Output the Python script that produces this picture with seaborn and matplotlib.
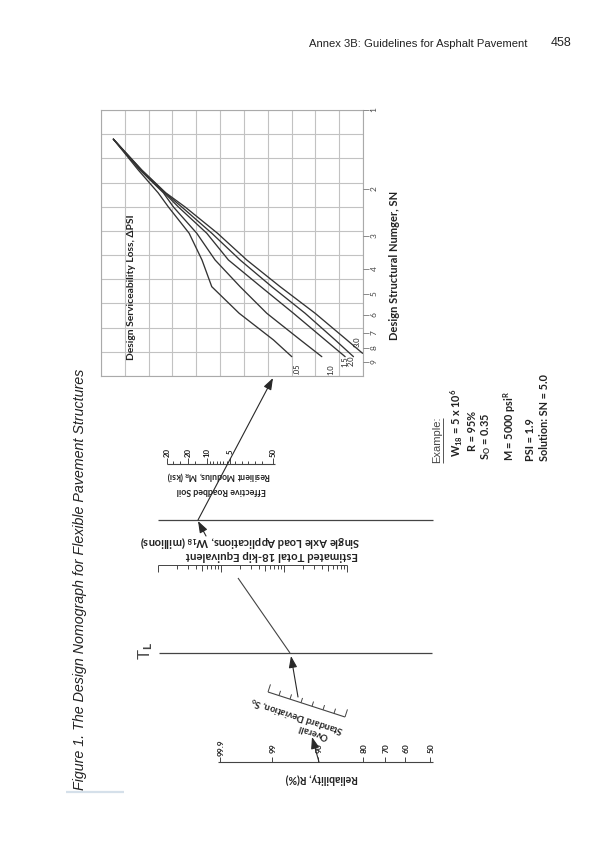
import numpy as np
import pandas as pd
import matplotlib
matplotlib.use("Agg")
import matplotlib.pyplot as plt
from matplotlib.ticker import FixedLocator, FixedFormatter, NullLocator
import seaborn as sns

# ---------------- data ----------------
DPSI = ["0.5", "1.0", "1.5", "2.0", "3.0"]
DPSI_LABELS = [".05", "1.0", "1.5", "2.0", "3.0"]
SN_LEVELS = [1.29, 1.69, 2.06, 2.33, 2.93, 3.70, 4.67, 5.89, 7.43, 8.60]
SN_LEVELS_30 = [1.29, 1.69, 2.06, 2.33, 2.93, 3.70, 4.67, 5.89, 7.43, 8.35]
CURVE_05 = [0.52, 1.57, 2.40, 2.83, 3.70, 4.24, 4.65, 5.80, 7.24, 8.01]
CURVE_10 = [0.52, 1.64, 2.62, 3.04, 4.02, 4.79, 5.84, 6.96, 8.37, 9.27]
CURVE_15 = [0.52, 1.68, 2.66, 3.25, 4.44, 5.35, 6.71, 8.08, 9.41, 10.25]
CURVE_20 = [0.52, 1.70, 2.69, 3.39, 4.65, 5.84, 7.17, 8.57, 9.83, 10.60]
CURVE_30 = [0.52, 1.72, 2.72, 3.53, 4.89, 6.12, 7.52, 8.99, 10.32, 10.98]
SN_TICKS = [1, 2, 3, 4, 5, 6, 7, 8, 9]

RELIABILITY_LABELS = ["99.9", "99", "90", "80", "70", "60", "50"]
MR_LABELS = ["20", "20", "10", "5", "50"]
W18_DECADES = [0.05, 0.5, 5, 50]
SO_TICK_COUNT = 8

EXAMPLE_LINES = [
    r"W$_{\mathbf{18}}$ = 5 x 10$^{\mathbf{6}}$",
    "R = 95%",
    r"S$_{\mathbf{O}}$ = 0.35",
    r"M = 5000 psi$^{\mathbf{R}}$",
    "PSI = 1.9",
    "Solution: SN = 5.0",
]

# ---------------- layout (page pixels) ----------------
W, H = 600, 850
CH_L, CH_R, CH_T, CH_B = 101, 363, 110, 376
SN_MAX = 10.18
LINE = "#444444"
TXT = "#222222"

REL_Y = 762
REL_X = [220, 272, 318, 363, 385, 405, 430]
MR_Y = 464
MR_MAJOR_X = [167, 188, 207, 230, 273]
MR_TICK_X = [167, 173, 180, 188, 195, 207, 210, 213, 217, 220, 223, 227, 230,
             235, 242, 248, 255, 262, 273]
W18_Y, W18_X0, W18_PX = 565, 158, 63
SO_P0, SO_P1 = (268, 692), (345, 717)
TURN_Y, TL_Y = 520, 653
LINES_X = (158, 433)

sns.set_theme(style="white")
plt.rcParams.update({
    "font.family": ["Lato", "DejaVu Sans"],
    "mathtext.fontset": "custom",
    "mathtext.rm": "Lato:bold",
    "mathtext.it": "Lato:italic",
    "mathtext.bf": "Lato:bold",
})
NOMO = dict(family=["Lato", "DejaVu Sans"], weight="bold", color=TXT)

fig = plt.figure(figsize=(6, 8.5), dpi=100)
fig.patch.set_facecolor("white")

# ---------------- design chart ----------------
axc = fig.add_axes([CH_L / W, 1 - CH_B / H, (CH_R - CH_L) / W, (CH_B - CH_T) / H])
axc.set_xlim(0, 11)
axc.set_ylim(11, 0)
axc.set_xticks(range(12))
axc.set_yticks(range(12))
axc.grid(True, color="#c2c2c2", lw=0.8)
axc.tick_params(length=0, labelbottom=False, labelleft=False)
for s in axc.spines.values():
    s.set_color("#aaaaaa")
    s.set_linewidth(0.8)

axs = axc.twinx()
curves = pd.concat([
    pd.DataFrame({"gx": g, "sn": sn, "dpsi": d})
    for d, g, sn in zip(DPSI,
                        [CURVE_05, CURVE_10, CURVE_15, CURVE_20, CURVE_30],
                        [SN_LEVELS] * 4 + [SN_LEVELS_30])
])
sns.lineplot(data=curves, x="gx", y="sn", hue="dpsi", palette=["#333333"] * 5,
             estimator=None, sort=False, legend=False, lw=0.95, ax=axs)
axs.set_yscale("log")
axs.set_ylim(SN_MAX, 1)
axs.set_xlim(0, 11)
axs.set_xlabel("")
axs.set_ylabel("")
axs.yaxis.set_major_locator(FixedLocator(SN_TICKS))
axs.yaxis.set_major_formatter(FixedFormatter([str(v) for v in SN_TICKS]))
axs.yaxis.set_minor_locator(NullLocator())
axs.tick_params(axis="y", which="major", right=True, direction="out", length=4,
                width=0.6, color="#777777", labelcolor="#444444", labelsize=6,
                labelrotation=90, pad=1.5)
for s in axs.spines.values():
    s.set_visible(False)

# ---------------- overlay in page pixels ----------------
ax0 = fig.add_axes([0, 0, 1, 1], zorder=10)
ax0.set_xlim(0, W)
ax0.set_ylim(H, 0)
ax0.axis("off")


def seg(p0, p1, lw=0.8, color=LINE):
    ax0.plot([p0[0], p1[0]], [p0[1], p1[1]], color=color, lw=lw,
             solid_capstyle="butt")


def arrow(p0, p1):
    ax0.annotate("", xy=p1, xytext=p0,
                 arrowprops=dict(arrowstyle="-|>,head_length=0.7,head_width=0.25",
                                 color="#282828", lw=0.8, shrinkA=0, shrinkB=0,
                                 mutation_scale=10))


# header and caption
ax0.text(418, 44, "Annex 3B: Guidelines for Asphalt Pavement", family="Liberation Sans",
         size=8.1, ha="center", va="center", color="#222222")
ax0.text(561, 43, "458", family="Liberation Sans", size=9, ha="center", va="center",
         color="#222222")
ax0.text(80, 790, "Figure 1. The Design Nomograph for Flexible Pavement Structures",
         family="Liberation Sans", style="italic", size=10.3, rotation=90,
         rotation_mode="anchor", ha="left", va="center", color="#222222")
seg((66, 792), (124, 792), lw=1.6, color="#d5e0ea")

# chart titles and curve labels
ax0.text(132, 287, "Design Serviceability Loss, ΔPSI", rotation=90, ha="center",
         va="center", size=7.4, **NOMO)
ax0.text(394, 265, "Design Structural Numger, SN", rotation=90, ha="center",
         va="center", size=8.0, **NOMO)
for lab, pos in zip(DPSI_LABELS, [(297, 369), (331, 370), (345, 362), (351, 361), (357, 342)]):
    ax0.text(pos[0], pos[1], lab, rotation=90, ha="center", va="center", size=5.5,
             family=["Lato", "DejaVu Sans"], color=TXT)

# MR scale
seg((MR_MAJOR_X[0], MR_Y), (MR_MAJOR_X[-1] + 2, MR_Y))
for x in MR_TICK_X:
    seg((x, MR_Y), (x, MR_Y - (6 if x in MR_MAJOR_X else 3.5)), lw=0.7)
for lab, x in zip(MR_LABELS, MR_MAJOR_X):
    ax0.text(x, 452, lab, rotation=90, ha="center", va="center", size=5.6, **NOMO)
ax0.text(219, 476, r"Resilient Modulus, M$_{\mathbf{R}}$ (ksi)", rotation=180,
         ha="center", va="center", size=6.2, **NOMO)
ax0.text(221, 490, "Effective Roadbed Soil", rotation=180, ha="center", va="center",
         size=6.4, **NOMO)

# turning line and TL line
seg((LINES_X[0], TURN_Y), (LINES_X[1], TURN_Y), lw=0.9)
seg((LINES_X[0] + 1, TL_Y), (LINES_X[1] - 1, TL_Y), lw=0.9)
ax0.text(146, 651, r"T$_\mathrm{L}$", rotation=90, ha="center", va="center",
         size=12, family="Liberation Sans", color="#444444")

# W18 scale
ax0.text(250, 542, r"Single Axle Load Applications, W$_{\mathbf{18}}$ (millions)",
         rotation=180, ha="center", va="center", size=8.0, **NOMO)
ax0.text(272, 555, "Estimated Total 18-kip Equivalent", rotation=180, ha="center",
         va="center", size=8.2, **NOMO)
w18_end = W18_X0 + W18_PX * np.log10(W18_DECADES[-1] / W18_DECADES[0])
seg((W18_X0, W18_Y), (w18_end, W18_Y), lw=0.7)
for dec in W18_DECADES:
    for m in range(1, 10):
        v = dec * m
        if v > W18_DECADES[-1] * 1.0001:
            break
        x = W18_X0 + W18_PX * np.log10(v / W18_DECADES[0])
        L = 7 if m == 1 else (5.5 if m == 5 else 4)
        seg((x, W18_Y), (x, W18_Y + L), lw=0.7)

# So scale
seg(SO_P0, SO_P1, lw=0.8)
d = np.array(SO_P1, float) - np.array(SO_P0, float)
n = np.array([d[1], -d[0]]) / np.hypot(*d)
for i in range(SO_TICK_COUNT):
    p = np.array(SO_P0, float) + d * i / (SO_TICK_COUNT - 1)
    L = 8 if i in (0, SO_TICK_COUNT - 1) else 5
    seg(p, p + n * L, lw=0.7)
ax0.text(297, 716, r"Standard Deviation, S$_{\mathbf{o}}$", rotation=162,
         rotation_mode="anchor", ha="center", va="center", size=6.8, **NOMO)
ax0.text(313, 732, "Overall", rotation=162, rotation_mode="anchor", ha="center",
         va="center", size=6.8, **NOMO)

# Reliability scale
seg((REL_X[0] - 2, REL_Y), (REL_X[-1] + 3, REL_Y), lw=0.8)
for lab, x in zip(RELIABILITY_LABELS, REL_X):
    seg((x, REL_Y), (x, REL_Y - 5), lw=0.7)
    ax0.text(x + 1, 748, lab, rotation=90, ha="center", va="center", size=6.0, **NOMO)
ax0.text(322, 779, "Reliability, R(%)", rotation=180, ha="center", va="center",
         size=7.6, **NOMO)

# example solution path
arrow((319, REL_Y), (312, 737))
arrow((298, 697), (291, 656))
seg((290, TL_Y), (238, 578))
arrow((206, 536), (198, TURN_Y + 1))
arrow((198, TURN_Y), (273, 378))

# example block
ax0.text(437, 463, "Example:", rotation=90, rotation_mode="anchor", ha="left",
         va="center", size=8, family="Liberation Sans", color="#444444")
seg((443, 463), (443, 418), lw=0.7, color="#555555")
ex_x = [457, 472, 486, 510, 530, 545]
ex_y = [457, 451, 460, 461, 461, 461]
for s, x, y in zip(EXAMPLE_LINES, ex_x, ex_y):
    ax0.text(x, y, s, rotation=90, rotation_mode="anchor", ha="left", va="center",
             size=7.8, **NOMO)

fig.savefig("out.png", dpi=100, facecolor="white")
